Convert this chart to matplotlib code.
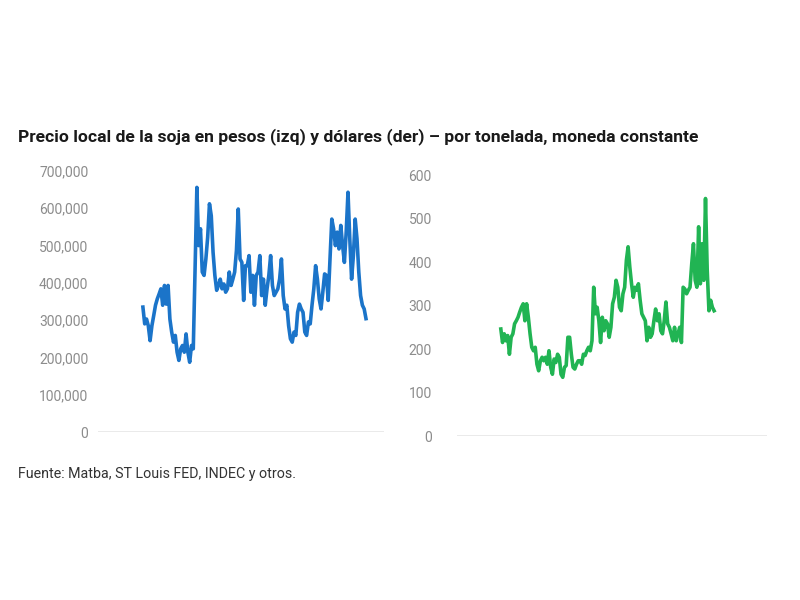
import numpy as np
from matplotlib import pyplot as plt

plt.rcParams["font.family"] = ["Roboto", "DejaVu Sans"]

# precio en pesos por tonelada (izq)
pesos = [335000, 290000, 303000, 285000, 245000, 285000, 312000, 340000, 357000, 370000,
         384000, 340000, 393000, 343000, 393000, 303000, 268000, 241000, 259000, 214000,
         192000, 223000, 232000, 214000, 263000, 214000, 187000, 232000, 223000, 437000,
         656000, 500000, 545000, 429000, 420000, 464000, 522000, 612000, 580000, 482000,
         420000, 380000, 393000, 410000, 384000, 397000, 375000, 384000, 429000, 393000,
         410000, 429000, 487000, 598000, 464000, 455000, 353000, 446000, 446000, 473000,
         375000, 420000, 340000, 420000, 429000, 473000, 366000, 410000, 340000, 384000,
         420000, 473000, 393000, 366000, 375000, 384000, 410000, 464000, 366000, 330000,
         340000, 285000, 250000, 241000, 268000, 259000, 321000, 343000, 330000, 321000,
         268000, 259000, 295000, 290000, 340000, 384000, 446000, 410000, 357000, 330000,
         375000, 424000, 420000, 353000, 464000, 571000, 545000, 500000, 536000, 491000,
         554000, 500000, 455000, 536000, 643000, 518000, 410000, 473000, 571000, 518000,
         429000, 366000, 340000, 330000, 304000]

# precio en dólares por tonelada (der)
dolares = [246, 215, 235, 219, 231, 188, 227, 235, 258, 265, 273, 285, 296, 304, 265,
           304, 273, 235, 204, 196, 204, 165, 150, 173, 181, 173, 181, 165, 196, 158,
           142, 177, 169, 188, 181, 142, 135, 158, 162, 227, 227, 188, 158, 154, 165,
           173, 173, 165, 188, 185, 196, 204, 196, 219, 342, 281, 296, 265, 215, 273,
           242, 265, 258, 227, 250, 304, 319, 358, 342, 296, 288, 327, 342, 404, 435,
           388, 350, 319, 342, 335, 350, 312, 281, 273, 265, 219, 250, 227, 235, 265,
           292, 265, 281, 242, 235, 265, 308, 258, 250, 235, 219, 250, 219, 235, 250,
           215, 342, 338, 327, 335, 342, 396, 442, 358, 342, 481, 350, 442, 358, 546,
           381, 288, 312, 296, 288]

title = "Precio local de la soja en pesos (izq) y dólares (der) – por tonelada, moneda constante"
source = "Fuente: Matba, ST Louis FED, INDEC y otros."

blue = "#1b74c9"
green = "#21b453"
tick_color = "#8c8c8c"

fig = plt.figure(figsize=(8, 6), dpi=100)


def panel(rect, values, color, ymax, ystep, fmt, x_from, x_to, pad):
    ax = fig.add_axes(rect)
    x = np.arange(len(values))
    ax.plot(x, values, color=color, lw=2.6, solid_joinstyle="round")
    span = (len(values) - 1) / (x_to - x_from)
    ax.set_xlim(-x_from * span, (1 - x_from) * span)
    ax.set_ylim(0, ymax)
    ax.set_yticks(np.arange(0, ymax + 1, ystep))
    ax.set_yticklabels([fmt(v) for v in np.arange(0, ymax + 1, ystep)])
    ax.axhline(0, color="#e8e8e8", lw=2, zorder=0)
    ax.set_xticks([])
    for s in ax.spines.values():
        s.set_visible(False)
    ax.tick_params(axis="y", length=0, pad=pad, labelsize=10, labelcolor=tick_color)
    return ax


panel([0.1225, 0.28, 0.3575, 0.435], pesos, blue, 700000, 100000,
      lambda v: f"{int(v):,}", 0.157, 0.937, 7)
panel([0.571, 0.2733, 0.3875, 0.435], dolares, green, 600, 100,
      lambda v: f"{int(v)}", 0.142, 0.83, 18)

fig.text(0.0225, 0.773, title, fontsize=12.6, fontweight="bold", color="#1a1a1a",
         va="center", ha="left")
fig.text(0.0225, 0.21, source, fontsize=10.3, color="#333333", va="center", ha="left")

plt.savefig("out.png", dpi=100)
